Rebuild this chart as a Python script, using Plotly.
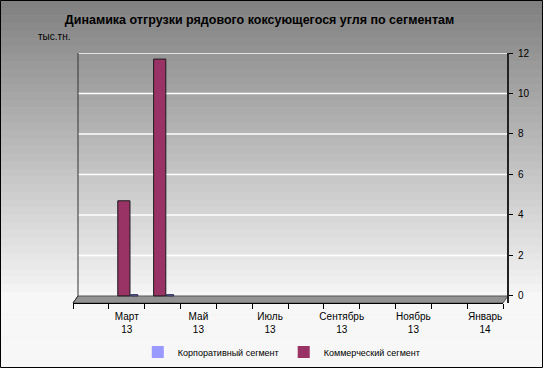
import plotly.graph_objects as go

title = "Динамика отгрузки рядового коксующегося угля по сегментам"
unit_label = "тыс.тн."
months = ["Фев 13", "Мар 13", "Апр 13", "Май 13", "Июн 13", "Июл 13",
          "Авг 13", "Сен 13", "Окт 13", "Ноя 13", "Дек 13", "Янв 14"]
tick_labels = ["", "Март<br>13", "", "Май<br>13", "", "Июль<br>13",
               "", "Сентябрь<br>13", "", "Ноябрь<br>13", "", "Январь<br>14"]
commercial = [0, 4.7, 11.7, 0, 0, 0, 0, 0, 0, 0, 0, 0]
corporate = [0, 0.06, 0.06, 0, 0, 0, 0, 0, 0, 0, 0, 0]
y_ticks = [0, 2, 4, 6, 8, 10, 12]

FONT = "Liberation Sans, Arial, sans-serif"
W, H = 543, 368
ML, MR, MT, MB = 73, 35, 53, 65
PW, PH = W - ML - MR, H - MT - MB
XDOM = 430 / PW


def px(x):
    return (x - ML) / PW


def py(y):
    return (H - MB - y) / PH


fig = go.Figure()
fig.add_trace(go.Bar(x=months, y=commercial, name="Коммерческий сегмент",
                     width=0.34, offset=-0.25,
                     marker=dict(color="#993366",
                                 line=dict(color="#1a1a1a",
                                           width=[1 if v > 0 else 0 for v in commercial])),
                     legendrank=2))
fig.add_trace(go.Bar(x=months, y=corporate, name="Корпоративный сегмент",
                     width=0.2, offset=0.11,
                     marker=dict(color="#9999ff",
                                 line=dict(color="#222244",
                                           width=[1 if v > 0 else 0 for v in corporate])),
                     legendrank=1))

shapes = []
# full-figure vertical gradient (dark top -> near white bottom)
n = 48
for i in range(n):
    ya = H * i / n
    yb = H * (i + 1) / n
    t = min(1.0, (ya + yb) / 2 / 290)
    v = int(0x80 + (0xf4 - 0x80) * t)
    if (ya + yb) / 2 > 290:
        v = min(0xf8, v + 3)
    col = f"rgb({v},{v},{v})"
    shapes.append(dict(type="rect", xref="paper", yref="paper",
                       x0=px(0), x1=px(W), y0=py(yb + 0.5), y1=py(ya),
                       fillcolor=col, line=dict(width=0), layer="below"))
# gridlines on the back wall
for v in y_ticks[1:]:
    shapes.append(dict(type="line", xref="paper", yref="y", x0=px(78), x1=px(508),
                       y0=v, y1=v, line=dict(color="#ffffff", width=1.5), layer="below"))
# floor
shapes.append(dict(type="path", xref="paper", yref="paper",
                   path=f"M {px(73)} {py(303)} L {px(503)} {py(303)} L {px(508)} {py(296)} "
                        f"L {px(78)} {py(296)} Z",
                   fillcolor="#939393", line=dict(color="#555555", width=1), layer="below"))
# left wall edge
shapes.append(dict(type="path", xref="paper", yref="paper",
                   path=f"M {px(73)} {py(303)} L {px(78)} {py(296)} L {px(78)} {py(53)}",
                   line=dict(color="#333333", width=1), layer="below"))
# outer frame
shapes.append(dict(type="rect", xref="paper", yref="paper", x0=px(0.5), x1=px(W - 0.5),
                   y0=py(H - 0.5), y1=py(0.5), line=dict(color="#000000", width=1)))

fig.update_layout(
    width=W, height=H,
    margin=dict(l=ML, r=MR, t=MT, b=MB, autoexpand=False),
    paper_bgcolor="#c0c0c0",
    plot_bgcolor="rgba(0,0,0,0)",
    font=dict(family=FONT, size=10, color="#000000"),
    title=dict(text="<b>" + title + "</b>", x=0.478, xanchor="center", y=1 - 20 / H,
               yanchor="middle", font=dict(size=12.5, family=FONT)),
    barmode="overlay",
    showlegend=True,
    legend=dict(orientation="h", x=0.48, xanchor="center", y=py(352), yanchor="middle",
                font=dict(size=9, family=FONT), bgcolor="rgba(0,0,0,0)"),
    shapes=shapes,
    annotations=[dict(text=unit_label, xref="paper", yref="paper", x=px(36), y=py(37),
                      xanchor="left", yanchor="middle", showarrow=False,
                      font=dict(size=10, family=FONT))],
    xaxis=dict(type="category", domain=[0, XDOM], tickmode="array", tickvals=months,
               ticktext=tick_labels,
               tickson="boundaries", ticks="outside", ticklen=5, tickcolor="#000000",
               showgrid=False, showline=True, linecolor="#000000", linewidth=1,
               ticklabelstandoff=4,
               tickfont=dict(size=10, family=FONT), tickangle=0),
    yaxis=dict(side="right", anchor="free", position=1.0, range=[-0.35, 12],
               tickvals=y_ticks, ticks="outside",
               ticklen=4, tickcolor="#000000", showline=True, linecolor="#222222",
               linewidth=2, showgrid=False, zeroline=False, ticklabelstandoff=3,
               tickfont=dict(size=10, family=FONT)),
)

fig.write_html("out.html", config={"displayModeBar": False},
               post_script="document.body.style.margin='0px';")
